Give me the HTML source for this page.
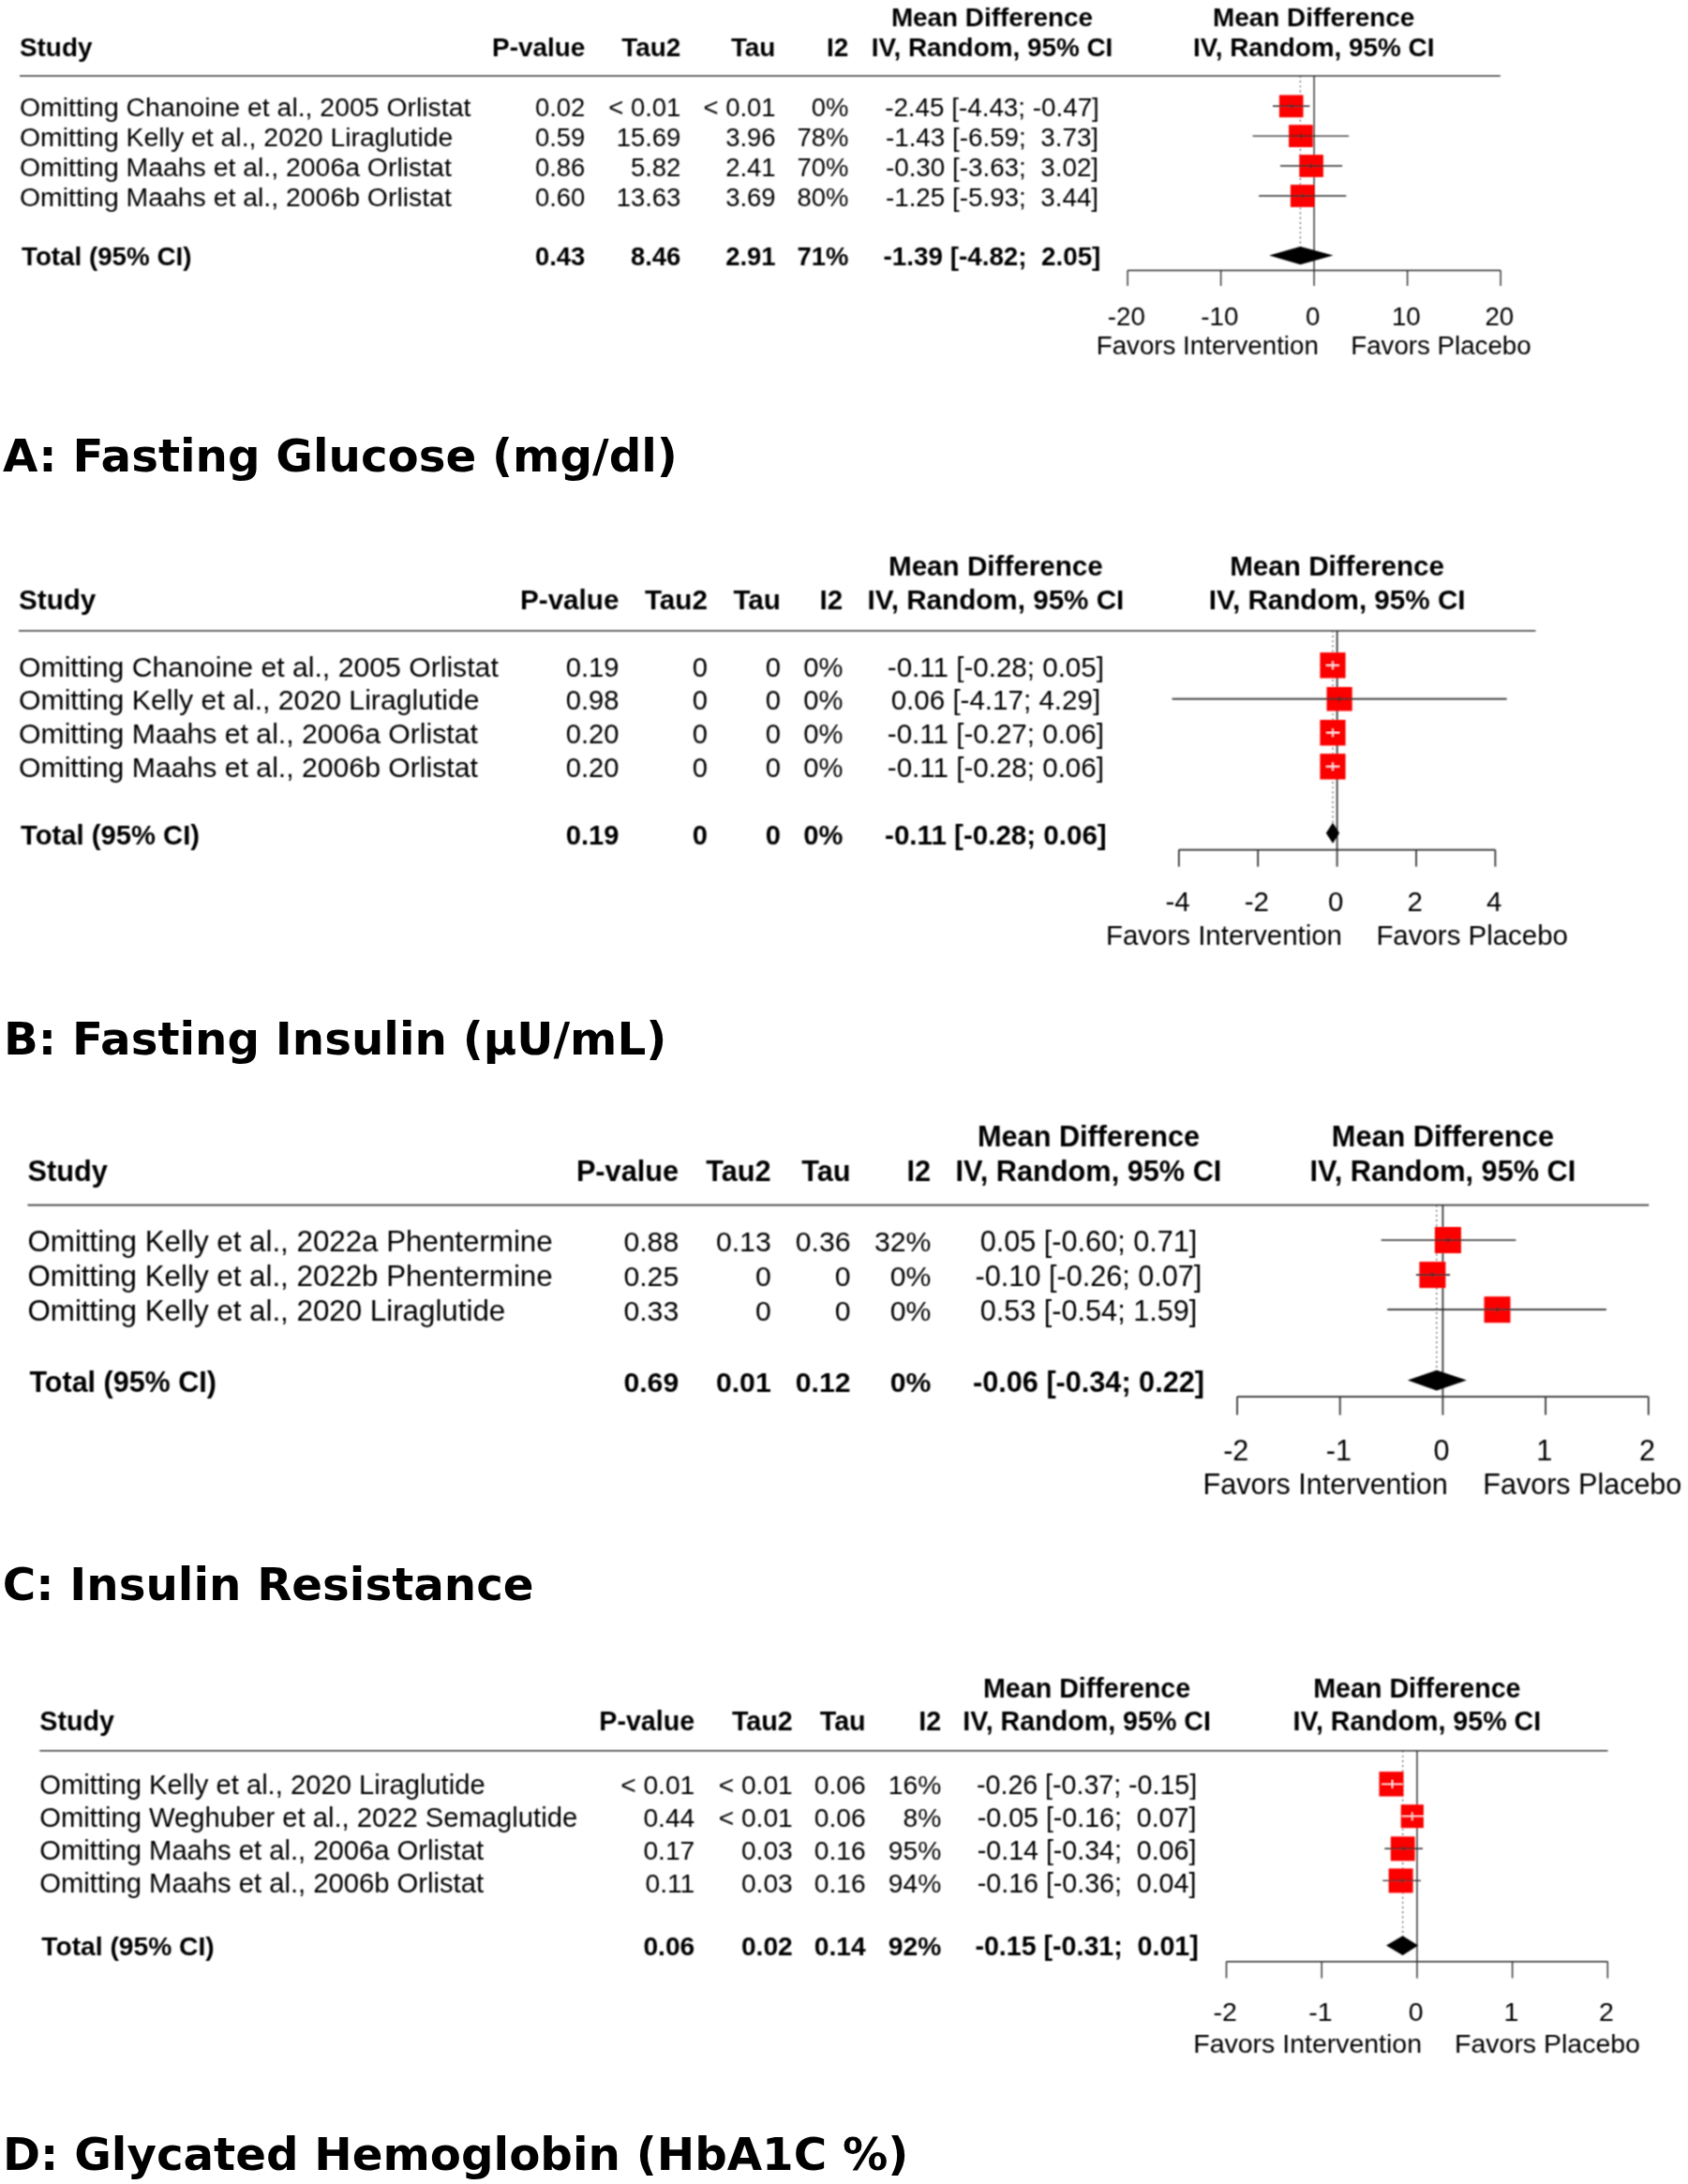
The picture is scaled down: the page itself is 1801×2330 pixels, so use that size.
<!DOCTYPE html>
<html lang="en"><head><meta charset="utf-8"><title>Sensitivity analysis forest plots</title>
<style>
html,body{margin:0;padding:0;background:#fff;}
body{width:1801px;height:2330px;overflow:hidden;}
svg{display:block;}
svg text{font-family:"Liberation Sans", Arial, Helvetica, sans-serif;fill:#000;white-space:pre;}
svg text.ttl{font-family:"DejaVu Sans","Liberation Sans",sans-serif;font-weight:700;font-size:48.3px;fill:#000;}
</style></head><body>
<svg width="1801" height="2330" viewBox="0 0 1801 2330">
<defs><filter id="soft" filterUnits="userSpaceOnUse" x="0" y="0" width="1801" height="2330"><feConvolveMatrix order="3" kernelMatrix="1 2 1 2 4 2 1 2 1" divisor="16" edgeMode="duplicate" preserveAlpha="false"/></filter></defs>
<rect width="1801" height="2330" fill="#fff"/>
<g font-size="28.40" filter="url(#soft)">
<text x="21.00" y="60.40" font-weight="700" font-size="27.86" xml:space="preserve">Study</text>
<text x="624.20" y="60.40" text-anchor="end" font-weight="700" font-size="27.86" xml:space="preserve">P-value</text>
<text x="726.20" y="60.40" text-anchor="end" font-weight="700" font-size="27.86" xml:space="preserve">Tau2</text>
<text x="827.40" y="60.40" text-anchor="end" font-weight="700" font-size="27.86" xml:space="preserve">Tau</text>
<text x="905.30" y="60.40" text-anchor="end" font-weight="700" font-size="27.86" xml:space="preserve">I2</text>
<text x="1058.50" y="28.00" text-anchor="middle" font-weight="700" font-size="27.86" xml:space="preserve">Mean Difference</text>
<text x="1058.50" y="60.40" text-anchor="middle" font-weight="700" font-size="27.86" xml:space="preserve">IV, Random, 95% CI</text>
<text x="1401.70" y="28.00" text-anchor="middle" font-weight="700" font-size="27.86" xml:space="preserve">Mean Difference</text>
<text x="1401.70" y="60.40" text-anchor="middle" font-weight="700" font-size="27.86" xml:space="preserve">IV, Random, 95% CI</text>
<line x1="21.0" y1="81.0" x2="1600.8" y2="81.0" stroke="#3a3a3a" stroke-width="1.4"/>
<line x1="1402.1" y1="81.0" x2="1402.1" y2="288.5" stroke="#2e2e2e" stroke-width="1.4"/>
<line x1="1387.4" y1="81.0" x2="1387.4" y2="272.6" stroke="#484848" stroke-width="1.2" stroke-dasharray="1.7 3.5"/>
<text x="21.00" y="123.60" xml:space="preserve">Omitting Chanoine et al., 2005 Orlistat</text>
<text x="624.30" y="123.60" text-anchor="end" font-size="27.41" xml:space="preserve">0.02</text>
<text x="726.30" y="123.60" text-anchor="end" font-size="27.41" xml:space="preserve">&lt; 0.01</text>
<text x="827.50" y="123.60" text-anchor="end" font-size="27.41" xml:space="preserve">&lt; 0.01</text>
<text x="905.40" y="123.60" text-anchor="end" font-size="27.41" xml:space="preserve">0%</text>
<text x="1058.50" y="123.60" text-anchor="middle" font-size="27.80" xml:space="preserve">-2.45 [-4.43; -0.47]</text>
<rect x="1364.9" y="101.4" width="25.6" height="23.8" fill="#fc0303"/>
<line x1="1358.0" y1="113.3" x2="1397.4" y2="113.3" stroke="#2e2e2e" stroke-width="1.4"/>
<line x1="1377.7" y1="110.4" x2="1377.7" y2="116.2" stroke="#2e2e2e" stroke-width="1.2"/>
<text x="21.00" y="155.60" xml:space="preserve">Omitting Kelly et al., 2020 Liraglutide</text>
<text x="624.30" y="155.60" text-anchor="end" font-size="27.41" xml:space="preserve">0.59</text>
<text x="726.30" y="155.60" text-anchor="end" font-size="27.41" xml:space="preserve">15.69</text>
<text x="827.50" y="155.60" text-anchor="end" font-size="27.41" xml:space="preserve">3.96</text>
<text x="905.40" y="155.60" text-anchor="end" font-size="27.41" xml:space="preserve">78%</text>
<text x="1058.50" y="155.60" text-anchor="middle" font-size="27.80" xml:space="preserve">-1.43 [-6.59;  3.73]</text>
<rect x="1375.1" y="133.2" width="25.6" height="23.8" fill="#fc0303"/>
<line x1="1336.5" y1="145.1" x2="1439.2" y2="145.1" stroke="#2e2e2e" stroke-width="1.4"/>
<line x1="1387.9" y1="142.2" x2="1387.9" y2="148.0" stroke="#2e2e2e" stroke-width="1.2"/>
<text x="21.00" y="187.60" xml:space="preserve">Omitting Maahs et al., 2006a Orlistat</text>
<text x="624.30" y="187.60" text-anchor="end" font-size="27.41" xml:space="preserve">0.86</text>
<text x="726.30" y="187.60" text-anchor="end" font-size="27.41" xml:space="preserve">5.82</text>
<text x="827.50" y="187.60" text-anchor="end" font-size="27.41" xml:space="preserve">2.41</text>
<text x="905.40" y="187.60" text-anchor="end" font-size="27.41" xml:space="preserve">70%</text>
<text x="1058.50" y="187.60" text-anchor="middle" font-size="27.80" xml:space="preserve">-0.30 [-3.63;  3.02]</text>
<rect x="1386.3" y="165.1" width="25.6" height="23.8" fill="#fc0303"/>
<line x1="1366.0" y1="177.0" x2="1432.1" y2="177.0" stroke="#2e2e2e" stroke-width="1.4"/>
<line x1="1399.1" y1="174.1" x2="1399.1" y2="179.9" stroke="#2e2e2e" stroke-width="1.2"/>
<text x="21.00" y="219.60" xml:space="preserve">Omitting Maahs et al., 2006b Orlistat</text>
<text x="624.30" y="219.60" text-anchor="end" font-size="27.41" xml:space="preserve">0.60</text>
<text x="726.30" y="219.60" text-anchor="end" font-size="27.41" xml:space="preserve">13.63</text>
<text x="827.50" y="219.60" text-anchor="end" font-size="27.41" xml:space="preserve">3.69</text>
<text x="905.40" y="219.60" text-anchor="end" font-size="27.41" xml:space="preserve">80%</text>
<text x="1058.50" y="219.60" text-anchor="middle" font-size="27.80" xml:space="preserve">-1.25 [-5.93;  3.44]</text>
<rect x="1376.9" y="197.1" width="25.6" height="23.8" fill="#fc0303"/>
<line x1="1343.1" y1="209.0" x2="1436.3" y2="209.0" stroke="#2e2e2e" stroke-width="1.4"/>
<line x1="1389.7" y1="206.1" x2="1389.7" y2="211.9" stroke="#2e2e2e" stroke-width="1.2"/>
<text x="23.00" y="282.60" font-weight="700" font-size="27.75" xml:space="preserve">Total (95% CI)</text>
<text x="624.30" y="282.60" text-anchor="end" font-weight="700" font-size="27.41" xml:space="preserve">0.43</text>
<text x="726.30" y="282.60" text-anchor="end" font-weight="700" font-size="27.41" xml:space="preserve">8.46</text>
<text x="827.50" y="282.60" text-anchor="end" font-weight="700" font-size="27.41" xml:space="preserve">2.91</text>
<text x="905.40" y="282.60" text-anchor="end" font-weight="700" font-size="27.41" xml:space="preserve">71%</text>
<text x="1058.50" y="282.60" text-anchor="middle" font-weight="700" font-size="27.80" xml:space="preserve">-1.39 [-4.82;  2.05]</text>
<polygon points="1354.1,272.6 1387.4,262.9 1422.5,272.6 1387.4,282.3" fill="#000"/>
<line x1="1203.1" y1="288.5" x2="1601.1" y2="288.5" stroke="#2e2e2e" stroke-width="1.4"/>
<line x1="1203.1" y1="288.5" x2="1203.1" y2="305.0" stroke="#2e2e2e" stroke-width="1.4"/>
<text x="1201.80" y="346.90" text-anchor="middle" font-size="27.69" xml:space="preserve">-20</text>
<line x1="1302.6" y1="288.5" x2="1302.6" y2="305.0" stroke="#2e2e2e" stroke-width="1.4"/>
<text x="1301.30" y="346.90" text-anchor="middle" font-size="27.69" xml:space="preserve">-10</text>
<line x1="1402.1" y1="288.5" x2="1402.1" y2="305.0" stroke="#2e2e2e" stroke-width="1.4"/>
<text x="1400.80" y="346.90" text-anchor="middle" font-size="27.69" xml:space="preserve">0</text>
<line x1="1501.6" y1="288.5" x2="1501.6" y2="305.0" stroke="#2e2e2e" stroke-width="1.4"/>
<text x="1500.30" y="346.90" text-anchor="middle" font-size="27.69" xml:space="preserve">10</text>
<line x1="1601.1" y1="288.5" x2="1601.1" y2="305.0" stroke="#2e2e2e" stroke-width="1.4"/>
<text x="1599.80" y="346.90" text-anchor="middle" font-size="27.69" xml:space="preserve">20</text>
<text x="1406.80" y="377.80" text-anchor="end" font-size="27.69" xml:space="preserve">Favors Intervention</text>
<text x="1441.30" y="377.80" font-size="27.69" xml:space="preserve">Favors Placebo</text>
</g>
<text class="ttl" x="3.0" y="502.5">A: Fasting Glucose (mg/dl)</text>
<g font-size="30.20" filter="url(#soft)">
<text x="20.00" y="650.30" font-weight="700" font-size="29.63" xml:space="preserve">Study</text>
<text x="660.40" y="650.30" text-anchor="end" font-weight="700" font-size="29.63" xml:space="preserve">P-value</text>
<text x="754.90" y="650.30" text-anchor="end" font-weight="700" font-size="29.63" xml:space="preserve">Tau2</text>
<text x="832.90" y="650.30" text-anchor="end" font-weight="700" font-size="29.63" xml:space="preserve">Tau</text>
<text x="899.20" y="650.30" text-anchor="end" font-weight="700" font-size="29.63" xml:space="preserve">I2</text>
<text x="1062.40" y="614.20" text-anchor="middle" font-weight="700" font-size="29.63" xml:space="preserve">Mean Difference</text>
<text x="1062.40" y="650.30" text-anchor="middle" font-weight="700" font-size="29.63" xml:space="preserve">IV, Random, 95% CI</text>
<text x="1426.60" y="614.20" text-anchor="middle" font-weight="700" font-size="29.63" xml:space="preserve">Mean Difference</text>
<text x="1426.60" y="650.30" text-anchor="middle" font-weight="700" font-size="29.63" xml:space="preserve">IV, Random, 95% CI</text>
<line x1="20.0" y1="673.0" x2="1638.4" y2="673.0" stroke="#3a3a3a" stroke-width="1.7"/>
<line x1="1426.6" y1="673.0" x2="1426.6" y2="906.6" stroke="#2e2e2e" stroke-width="1.7"/>
<line x1="1422.0" y1="673.0" x2="1422.0" y2="888.8" stroke="#484848" stroke-width="1.2" stroke-dasharray="1.7 3.5"/>
<text x="20.00" y="721.50" xml:space="preserve">Omitting Chanoine et al., 2005 Orlistat</text>
<text x="660.50" y="721.50" text-anchor="end" font-size="29.14" xml:space="preserve">0.19</text>
<text x="755.00" y="721.50" text-anchor="end" font-size="29.14" xml:space="preserve">0</text>
<text x="833.00" y="721.50" text-anchor="end" font-size="29.14" xml:space="preserve">0</text>
<text x="899.30" y="721.50" text-anchor="end" font-size="29.14" xml:space="preserve">0%</text>
<text x="1062.40" y="721.50" text-anchor="middle" font-size="29.57" xml:space="preserve">-0.11 [-0.28; 0.05]</text>
<rect x="1408.4" y="696.1" width="27.2" height="27.4" fill="#fc0303"/>
<line x1="1414.8" y1="709.8" x2="1428.7" y2="709.8" stroke="#fff" stroke-width="1.4"/>
<line x1="1422.0" y1="705.6" x2="1422.0" y2="714.0" stroke="#fff" stroke-width="1.4"/>
<text x="20.00" y="757.40" xml:space="preserve">Omitting Kelly et al., 2020 Liraglutide</text>
<text x="660.50" y="757.40" text-anchor="end" font-size="29.14" xml:space="preserve">0.98</text>
<text x="755.00" y="757.40" text-anchor="end" font-size="29.14" xml:space="preserve">0</text>
<text x="833.00" y="757.40" text-anchor="end" font-size="29.14" xml:space="preserve">0</text>
<text x="899.30" y="757.40" text-anchor="end" font-size="29.14" xml:space="preserve">0%</text>
<text x="1062.40" y="757.40" text-anchor="middle" font-size="29.57" xml:space="preserve">0.06 [-4.17; 4.29]</text>
<rect x="1415.5" y="732.9" width="27.2" height="25.6" fill="#fc0303"/>
<line x1="1250.6" y1="745.7" x2="1607.6" y2="745.7" stroke="#2e2e2e" stroke-width="1.7"/>
<line x1="1429.1" y1="742.8" x2="1429.1" y2="748.6" stroke="#2e2e2e" stroke-width="1.4"/>
<text x="20.00" y="793.40" xml:space="preserve">Omitting Maahs et al., 2006a Orlistat</text>
<text x="660.50" y="793.40" text-anchor="end" font-size="29.14" xml:space="preserve">0.20</text>
<text x="755.00" y="793.40" text-anchor="end" font-size="29.14" xml:space="preserve">0</text>
<text x="833.00" y="793.40" text-anchor="end" font-size="29.14" xml:space="preserve">0</text>
<text x="899.30" y="793.40" text-anchor="end" font-size="29.14" xml:space="preserve">0%</text>
<text x="1062.40" y="793.40" text-anchor="middle" font-size="29.57" xml:space="preserve">-0.11 [-0.27; 0.06]</text>
<rect x="1408.4" y="768.0" width="27.2" height="27.4" fill="#fc0303"/>
<line x1="1415.2" y1="781.7" x2="1429.1" y2="781.7" stroke="#fff" stroke-width="1.4"/>
<line x1="1422.0" y1="777.5" x2="1422.0" y2="785.9" stroke="#fff" stroke-width="1.4"/>
<text x="20.00" y="829.30" xml:space="preserve">Omitting Maahs et al., 2006b Orlistat</text>
<text x="660.50" y="829.30" text-anchor="end" font-size="29.14" xml:space="preserve">0.20</text>
<text x="755.00" y="829.30" text-anchor="end" font-size="29.14" xml:space="preserve">0</text>
<text x="833.00" y="829.30" text-anchor="end" font-size="29.14" xml:space="preserve">0</text>
<text x="899.30" y="829.30" text-anchor="end" font-size="29.14" xml:space="preserve">0%</text>
<text x="1062.40" y="829.30" text-anchor="middle" font-size="29.57" xml:space="preserve">-0.11 [-0.28; 0.06]</text>
<rect x="1408.4" y="804.1" width="27.2" height="27.4" fill="#fc0303"/>
<line x1="1414.8" y1="817.8" x2="1429.1" y2="817.8" stroke="#fff" stroke-width="1.4"/>
<line x1="1422.0" y1="813.6" x2="1422.0" y2="822.0" stroke="#fff" stroke-width="1.4"/>
<text x="22.00" y="900.80" font-weight="700" font-size="29.23" xml:space="preserve">Total (95% CI)</text>
<text x="660.50" y="900.80" text-anchor="end" font-weight="700" font-size="29.14" xml:space="preserve">0.19</text>
<text x="755.00" y="900.80" text-anchor="end" font-weight="700" font-size="29.14" xml:space="preserve">0</text>
<text x="833.00" y="900.80" text-anchor="end" font-weight="700" font-size="29.14" xml:space="preserve">0</text>
<text x="899.30" y="900.80" text-anchor="end" font-weight="700" font-size="29.14" xml:space="preserve">0%</text>
<text x="1062.40" y="900.80" text-anchor="middle" font-weight="700" font-size="29.57" xml:space="preserve">-0.11 [-0.28; 0.06]</text>
<polygon points="1414.8,888.8 1422.0,877.8 1429.1,888.8 1422.0,899.8" fill="#000"/>
<line x1="1257.8" y1="906.6" x2="1595.4" y2="906.6" stroke="#2e2e2e" stroke-width="1.7"/>
<line x1="1257.8" y1="906.6" x2="1257.8" y2="924.6" stroke="#2e2e2e" stroke-width="1.7"/>
<text x="1256.50" y="971.90" text-anchor="middle" font-size="29.45" xml:space="preserve">-4</text>
<line x1="1342.2" y1="906.6" x2="1342.2" y2="924.6" stroke="#2e2e2e" stroke-width="1.7"/>
<text x="1340.90" y="971.90" text-anchor="middle" font-size="29.45" xml:space="preserve">-2</text>
<line x1="1426.6" y1="906.6" x2="1426.6" y2="924.6" stroke="#2e2e2e" stroke-width="1.7"/>
<text x="1425.30" y="971.90" text-anchor="middle" font-size="29.45" xml:space="preserve">0</text>
<line x1="1511.0" y1="906.6" x2="1511.0" y2="924.6" stroke="#2e2e2e" stroke-width="1.7"/>
<text x="1509.70" y="971.90" text-anchor="middle" font-size="29.45" xml:space="preserve">2</text>
<line x1="1595.4" y1="906.6" x2="1595.4" y2="924.6" stroke="#2e2e2e" stroke-width="1.7"/>
<text x="1594.10" y="971.90" text-anchor="middle" font-size="29.45" xml:space="preserve">4</text>
<text x="1432.00" y="1007.80" text-anchor="end" font-size="29.45" xml:space="preserve">Favors Intervention</text>
<text x="1468.40" y="1007.80" font-size="29.45" xml:space="preserve">Favors Placebo</text>
</g>
<text class="ttl" x="4.0" y="1125.2">B: Fasting Insulin (µU/mL)</text>
<g font-size="31.30" filter="url(#soft)">
<text x="29.50" y="1260.40" font-weight="700" font-size="30.71" xml:space="preserve">Study</text>
<text x="724.10" y="1260.40" text-anchor="end" font-weight="700" font-size="30.71" xml:space="preserve">P-value</text>
<text x="822.60" y="1260.40" text-anchor="end" font-weight="700" font-size="30.71" xml:space="preserve">Tau2</text>
<text x="907.50" y="1260.40" text-anchor="end" font-weight="700" font-size="30.71" xml:space="preserve">Tau</text>
<text x="993.20" y="1260.40" text-anchor="end" font-weight="700" font-size="30.71" xml:space="preserve">I2</text>
<text x="1161.50" y="1222.60" text-anchor="middle" font-weight="700" font-size="30.71" xml:space="preserve">Mean Difference</text>
<text x="1161.50" y="1260.40" text-anchor="middle" font-weight="700" font-size="30.71" xml:space="preserve">IV, Random, 95% CI</text>
<text x="1539.40" y="1222.60" text-anchor="middle" font-weight="700" font-size="30.71" xml:space="preserve">Mean Difference</text>
<text x="1539.40" y="1260.40" text-anchor="middle" font-weight="700" font-size="30.71" xml:space="preserve">IV, Random, 95% CI</text>
<line x1="29.5" y1="1285.7" x2="1759.2" y2="1285.7" stroke="#3a3a3a" stroke-width="1.7"/>
<line x1="1539.4" y1="1285.7" x2="1539.4" y2="1490.1" stroke="#2e2e2e" stroke-width="1.7"/>
<line x1="1532.8" y1="1285.7" x2="1532.8" y2="1472.6" stroke="#484848" stroke-width="1.2" stroke-dasharray="1.7 3.5"/>
<text x="29.50" y="1335.00" xml:space="preserve">Omitting Kelly et al., 2022a Phentermine</text>
<text x="724.20" y="1335.00" text-anchor="end" font-size="30.20" xml:space="preserve">0.88</text>
<text x="822.70" y="1335.00" text-anchor="end" font-size="30.20" xml:space="preserve">0.13</text>
<text x="907.60" y="1335.00" text-anchor="end" font-size="30.20" xml:space="preserve">0.36</text>
<text x="993.30" y="1335.00" text-anchor="end" font-size="30.20" xml:space="preserve">32%</text>
<text x="1161.50" y="1335.00" text-anchor="middle" font-size="30.64" xml:space="preserve">0.05 [-0.60; 0.71]</text>
<rect x="1530.9" y="1309.0" width="28.0" height="28.0" fill="#fc0303"/>
<line x1="1473.6" y1="1323.0" x2="1617.3" y2="1323.0" stroke="#2e2e2e" stroke-width="1.7"/>
<line x1="1544.9" y1="1320.1" x2="1544.9" y2="1325.9" stroke="#2e2e2e" stroke-width="1.4"/>
<text x="29.50" y="1372.10" xml:space="preserve">Omitting Kelly et al., 2022b Phentermine</text>
<text x="724.20" y="1372.10" text-anchor="end" font-size="30.20" xml:space="preserve">0.25</text>
<text x="822.70" y="1372.10" text-anchor="end" font-size="30.20" xml:space="preserve">0</text>
<text x="907.60" y="1372.10" text-anchor="end" font-size="30.20" xml:space="preserve">0</text>
<text x="993.30" y="1372.10" text-anchor="end" font-size="30.20" xml:space="preserve">0%</text>
<text x="1161.50" y="1372.10" text-anchor="middle" font-size="30.64" xml:space="preserve">-0.10 [-0.26; 0.07]</text>
<rect x="1514.4" y="1346.1" width="28.0" height="28.0" fill="#fc0303"/>
<line x1="1510.9" y1="1360.1" x2="1547.1" y2="1360.1" stroke="#2e2e2e" stroke-width="1.7"/>
<line x1="1528.4" y1="1357.2" x2="1528.4" y2="1363.0" stroke="#2e2e2e" stroke-width="1.4"/>
<text x="29.50" y="1409.20" xml:space="preserve">Omitting Kelly et al., 2020 Liraglutide</text>
<text x="724.20" y="1409.20" text-anchor="end" font-size="30.20" xml:space="preserve">0.33</text>
<text x="822.70" y="1409.20" text-anchor="end" font-size="30.20" xml:space="preserve">0</text>
<text x="907.60" y="1409.20" text-anchor="end" font-size="30.20" xml:space="preserve">0</text>
<text x="993.30" y="1409.20" text-anchor="end" font-size="30.20" xml:space="preserve">0%</text>
<text x="1161.50" y="1409.20" text-anchor="middle" font-size="30.64" xml:space="preserve">0.53 [-0.54; 1.59]</text>
<rect x="1583.5" y="1383.2" width="28.0" height="28.0" fill="#fc0303"/>
<line x1="1480.2" y1="1397.2" x2="1713.8" y2="1397.2" stroke="#2e2e2e" stroke-width="1.7"/>
<line x1="1597.5" y1="1394.3" x2="1597.5" y2="1400.1" stroke="#2e2e2e" stroke-width="1.4"/>
<text x="31.50" y="1484.60" font-weight="700" font-size="30.49" xml:space="preserve">Total (95% CI)</text>
<text x="724.20" y="1484.60" text-anchor="end" font-weight="700" font-size="30.20" xml:space="preserve">0.69</text>
<text x="822.70" y="1484.60" text-anchor="end" font-weight="700" font-size="30.20" xml:space="preserve">0.01</text>
<text x="907.60" y="1484.60" text-anchor="end" font-weight="700" font-size="30.20" xml:space="preserve">0.12</text>
<text x="993.30" y="1484.60" text-anchor="end" font-weight="700" font-size="30.20" xml:space="preserve">0%</text>
<text x="1161.50" y="1484.60" text-anchor="middle" font-weight="700" font-size="30.64" xml:space="preserve">-0.06 [-0.34; 0.22]</text>
<polygon points="1501.9,1472.6 1532.8,1461.7 1564.9,1472.6 1532.8,1483.5" fill="#000"/>
<line x1="1320.0" y1="1490.1" x2="1758.8" y2="1490.1" stroke="#2e2e2e" stroke-width="1.7"/>
<line x1="1320.0" y1="1490.1" x2="1320.0" y2="1509.6" stroke="#2e2e2e" stroke-width="1.7"/>
<text x="1318.70" y="1557.70" text-anchor="middle" font-size="30.52" xml:space="preserve">-2</text>
<line x1="1429.7" y1="1490.1" x2="1429.7" y2="1509.6" stroke="#2e2e2e" stroke-width="1.7"/>
<text x="1428.40" y="1557.70" text-anchor="middle" font-size="30.52" xml:space="preserve">-1</text>
<line x1="1539.4" y1="1490.1" x2="1539.4" y2="1509.6" stroke="#2e2e2e" stroke-width="1.7"/>
<text x="1538.10" y="1557.70" text-anchor="middle" font-size="30.52" xml:space="preserve">0</text>
<line x1="1649.1" y1="1490.1" x2="1649.1" y2="1509.6" stroke="#2e2e2e" stroke-width="1.7"/>
<text x="1647.80" y="1557.70" text-anchor="middle" font-size="30.52" xml:space="preserve">1</text>
<line x1="1758.8" y1="1490.1" x2="1758.8" y2="1509.6" stroke="#2e2e2e" stroke-width="1.7"/>
<text x="1757.50" y="1557.70" text-anchor="middle" font-size="30.52" xml:space="preserve">2</text>
<text x="1544.80" y="1593.60" text-anchor="end" font-size="30.52" xml:space="preserve">Favors Intervention</text>
<text x="1582.30" y="1593.60" font-size="30.52" xml:space="preserve">Favors Placebo</text>
</g>
<text class="ttl" x="2.8" y="1706.8">C: Insulin Resistance</text>
<g font-size="29.20" filter="url(#soft)">
<text x="42.30" y="1846.10" font-weight="700" font-size="28.65" xml:space="preserve">Study</text>
<text x="741.20" y="1846.10" text-anchor="end" font-weight="700" font-size="28.65" xml:space="preserve">P-value</text>
<text x="845.70" y="1846.10" text-anchor="end" font-weight="700" font-size="28.65" xml:space="preserve">Tau2</text>
<text x="923.60" y="1846.10" text-anchor="end" font-weight="700" font-size="28.65" xml:space="preserve">Tau</text>
<text x="1004.10" y="1846.10" text-anchor="end" font-weight="700" font-size="28.65" xml:space="preserve">I2</text>
<text x="1159.60" y="1811.10" text-anchor="middle" font-weight="700" font-size="28.65" xml:space="preserve">Mean Difference</text>
<text x="1159.60" y="1846.10" text-anchor="middle" font-weight="700" font-size="28.65" xml:space="preserve">IV, Random, 95% CI</text>
<text x="1511.90" y="1811.10" text-anchor="middle" font-weight="700" font-size="28.65" xml:space="preserve">Mean Difference</text>
<text x="1511.90" y="1846.10" text-anchor="middle" font-weight="700" font-size="28.65" xml:space="preserve">IV, Random, 95% CI</text>
<line x1="42.3" y1="1867.7" x2="1715.4" y2="1867.7" stroke="#3a3a3a" stroke-width="1.4"/>
<line x1="1511.9" y1="1867.7" x2="1511.9" y2="2092.8" stroke="#2e2e2e" stroke-width="1.4"/>
<line x1="1496.6" y1="1867.7" x2="1496.6" y2="2075.6" stroke="#484848" stroke-width="1.2" stroke-dasharray="1.7 3.5"/>
<text x="42.30" y="1913.70" xml:space="preserve">Omitting Kelly et al., 2020 Liraglutide</text>
<text x="741.30" y="1913.70" text-anchor="end" font-size="28.18" xml:space="preserve">&lt; 0.01</text>
<text x="845.80" y="1913.70" text-anchor="end" font-size="28.18" xml:space="preserve">&lt; 0.01</text>
<text x="923.70" y="1913.70" text-anchor="end" font-size="28.18" xml:space="preserve">0.06</text>
<text x="1004.20" y="1913.70" text-anchor="end" font-size="28.18" xml:space="preserve">16%</text>
<text x="1159.60" y="1913.70" text-anchor="middle" font-size="28.59" xml:space="preserve">-0.26 [-0.37; -0.15]</text>
<rect x="1471.5" y="1890.1" width="26.0" height="26.4" fill="#fc0303"/>
<line x1="1474.3" y1="1903.3" x2="1496.6" y2="1903.3" stroke="#fff" stroke-width="1.1"/>
<line x1="1485.5" y1="1899.1" x2="1485.5" y2="1907.5" stroke="#fff" stroke-width="1.2"/>
<text x="42.30" y="1948.50" xml:space="preserve">Omitting Weghuber et al., 2022 Semaglutide</text>
<text x="741.30" y="1948.50" text-anchor="end" font-size="28.18" xml:space="preserve">0.44</text>
<text x="845.80" y="1948.50" text-anchor="end" font-size="28.18" xml:space="preserve">&lt; 0.01</text>
<text x="923.70" y="1948.50" text-anchor="end" font-size="28.18" xml:space="preserve">0.06</text>
<text x="1004.20" y="1948.50" text-anchor="end" font-size="28.18" xml:space="preserve">8%</text>
<text x="1159.60" y="1948.50" text-anchor="middle" font-size="28.59" xml:space="preserve">-0.05 [-0.16;  0.07]</text>
<rect x="1494.7" y="1925.2" width="24.2" height="25.0" fill="#fc0303"/>
<line x1="1495.6" y1="1937.7" x2="1519.0" y2="1937.7" stroke="#fff" stroke-width="1.1"/>
<line x1="1506.8" y1="1933.5" x2="1506.8" y2="1941.9" stroke="#fff" stroke-width="1.2"/>
<text x="42.30" y="1983.60" xml:space="preserve">Omitting Maahs et al., 2006a Orlistat</text>
<text x="741.30" y="1983.60" text-anchor="end" font-size="28.18" xml:space="preserve">0.17</text>
<text x="845.80" y="1983.60" text-anchor="end" font-size="28.18" xml:space="preserve">0.03</text>
<text x="923.70" y="1983.60" text-anchor="end" font-size="28.18" xml:space="preserve">0.16</text>
<text x="1004.20" y="1983.60" text-anchor="end" font-size="28.18" xml:space="preserve">95%</text>
<text x="1159.60" y="1983.60" text-anchor="middle" font-size="28.59" xml:space="preserve">-0.14 [-0.34;  0.06]</text>
<rect x="1483.8" y="1959.3" width="25.8" height="26.0" fill="#fc0303"/>
<line x1="1477.3" y1="1972.3" x2="1518.0" y2="1972.3" stroke="#2e2e2e" stroke-width="1.4"/>
<line x1="1497.7" y1="1969.4" x2="1497.7" y2="1975.2" stroke="#2e2e2e" stroke-width="1.2"/>
<text x="42.30" y="2018.50" xml:space="preserve">Omitting Maahs et al., 2006b Orlistat</text>
<text x="741.30" y="2018.50" text-anchor="end" font-size="28.18" xml:space="preserve">0.11</text>
<text x="845.80" y="2018.50" text-anchor="end" font-size="28.18" xml:space="preserve">0.03</text>
<text x="923.70" y="2018.50" text-anchor="end" font-size="28.18" xml:space="preserve">0.16</text>
<text x="1004.20" y="2018.50" text-anchor="end" font-size="28.18" xml:space="preserve">94%</text>
<text x="1159.60" y="2018.50" text-anchor="middle" font-size="28.59" xml:space="preserve">-0.16 [-0.36;  0.04]</text>
<rect x="1481.6" y="1993.4" width="26.0" height="26.0" fill="#fc0303"/>
<line x1="1475.3" y1="2006.4" x2="1516.0" y2="2006.4" stroke="#2e2e2e" stroke-width="1.4"/>
<line x1="1495.6" y1="2003.5" x2="1495.6" y2="2009.3" stroke="#2e2e2e" stroke-width="1.2"/>
<text x="44.30" y="2086.40" font-weight="700" font-size="28.21" xml:space="preserve">Total (95% CI)</text>
<text x="741.30" y="2086.40" text-anchor="end" font-weight="700" font-size="28.18" xml:space="preserve">0.06</text>
<text x="845.80" y="2086.40" text-anchor="end" font-weight="700" font-size="28.18" xml:space="preserve">0.02</text>
<text x="923.70" y="2086.40" text-anchor="end" font-weight="700" font-size="28.18" xml:space="preserve">0.14</text>
<text x="1004.20" y="2086.40" text-anchor="end" font-weight="700" font-size="28.18" xml:space="preserve">92%</text>
<text x="1159.60" y="2086.40" text-anchor="middle" font-weight="700" font-size="28.59" xml:space="preserve">-0.15 [-0.31;  0.01]</text>
<polygon points="1479.0,2075.6 1496.6,2065.2 1513.1,2075.6 1496.6,2086.0" fill="#000"/>
<line x1="1308.5" y1="2092.8" x2="1715.3" y2="2092.8" stroke="#2e2e2e" stroke-width="1.4"/>
<line x1="1308.5" y1="2092.8" x2="1308.5" y2="2110.4" stroke="#2e2e2e" stroke-width="1.4"/>
<text x="1307.20" y="2156.20" text-anchor="middle" font-size="28.47" xml:space="preserve">-2</text>
<line x1="1410.2" y1="2092.8" x2="1410.2" y2="2110.4" stroke="#2e2e2e" stroke-width="1.4"/>
<text x="1408.90" y="2156.20" text-anchor="middle" font-size="28.47" xml:space="preserve">-1</text>
<line x1="1511.9" y1="2092.8" x2="1511.9" y2="2110.4" stroke="#2e2e2e" stroke-width="1.4"/>
<text x="1510.60" y="2156.20" text-anchor="middle" font-size="28.47" xml:space="preserve">0</text>
<line x1="1613.6" y1="2092.8" x2="1613.6" y2="2110.4" stroke="#2e2e2e" stroke-width="1.4"/>
<text x="1612.30" y="2156.20" text-anchor="middle" font-size="28.47" xml:space="preserve">1</text>
<line x1="1715.3" y1="2092.8" x2="1715.3" y2="2110.4" stroke="#2e2e2e" stroke-width="1.4"/>
<text x="1714.00" y="2156.20" text-anchor="middle" font-size="28.47" xml:space="preserve">2</text>
<text x="1517.00" y="2189.50" text-anchor="end" font-size="28.47" xml:space="preserve">Favors Intervention</text>
<text x="1552.10" y="2189.50" font-size="28.47" xml:space="preserve">Favors Placebo</text>
</g>
<text class="ttl" x="3.0" y="2314.8">D: Glycated Hemoglobin (HbA1C %)</text>
</svg>
</body></html>
